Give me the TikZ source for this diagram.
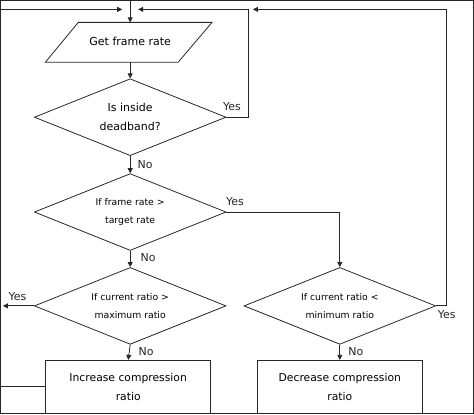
\documentclass[tikz,border=0pt]{standalone}
\usepackage{fontspec}
\setmainfont{DejaVu Sans}
\usetikzlibrary{shapes.geometric,arrows.meta}
\begin{document}
\begin{tikzpicture}[x=1pt,y=-1pt, line width=0.8pt,
  every path/.style={draw=black!85},
  dec/.style={diamond, draw, minimum width=192pt, minimum height=77pt, inner sep=0pt, aspect=2.5, align=center, font=\fontsize{9.3}{17.5}\selectfont},
  decbig/.style={dec, font=\fontsize{11}{19}\selectfont},
  proc/.style={rectangle, draw, minimum width=165pt, minimum height=53pt, inner sep=0pt, align=center, font=\fontsize{10.8}{19}\selectfont},
  lbl/.style={font=\fontsize{11}{12}\selectfont, inner sep=1pt, text=black!85},
  arr/.style={-{Triangle[length=5pt,width=5pt]}}]
\useasboundingbox (0,0) rectangle (474,414);

% parallelogram (input)
\draw (78,22) -- (212,22) -- (178,62) -- (45,62) -- cycle;
\node[font=\fontsize{11}{12}\selectfont] (gfr) at (130,41) {Get frame rate};
\coordinate (gtop) at (130,22);
\coordinate (gbot) at (130,62);
\coordinate (start) at (130,0);

\node[decbig] (d1) at (130,117) {Is inside\\deadband?};
\node[dec] (d2) at (130,212) {If frame rate >\\target rate};
\node[dec] (d3) at (130,306) {If current ratio >\\maximum ratio};
\node[dec] (d4) at (340,306) {If current ratio <\\minimum ratio};
\node[proc] (b1) at (128,387) {Increase compression\\ratio};
\node[proc] (b2) at (340,387) {Decrease compression\\ratio};

% junction coordinates on the top line
\coordinate (jl) at (122,9);
\coordinate (jr) at (138,9);
\coordinate (jy) at (248,9);
\coordinate (jyr) at (253,9);
\coordinate (rtop) at (447,9);
\coordinate (rbot) at (447,306);
\coordinate (ltop) at (0.5,9);
\coordinate (lbot) at (0.5,387);
\coordinate (lmid) at (0.5,306);

\draw[arr] (start) -- (gtop);
\draw[arr] (gbot) -- (d1.north);
\draw[arr] (d1.south) -- (d2.north);
\draw[arr] (d1.east) -| (jy) -- (jr);
\draw[arr] (d2.east) -| (d4.north);
\draw[arr] (d2.south) -- (d3.north);
\draw[arr] (d3.west) -- ([xshift=2pt]lmid);
\draw[arr] (d3.south) -- (b1.north);
\draw[arr] (d4.south) -- (b2.north);
\draw[arr] (d4.east) -- (rbot) -- (rtop) -- (jyr);
\draw[arr] (b1.west) -- (lbot) -- (ltop) -- (jl);

% labels
\node[lbl] (l1) at (232,106) {Yes};
\node[lbl] (l2) at (145,164) {No};
\node[lbl] (l3) at (235,202) {Yes};
\node[lbl] (l4) at (148,258) {No};
\node[lbl] (l5) at (17,297) {Yes};
\node[lbl] (l6) at (146,352) {No};
\node[lbl] (l7) at (356,352) {No};
\node[lbl] (l8) at (447,315) {Yes};
\end{tikzpicture}
\end{document}
